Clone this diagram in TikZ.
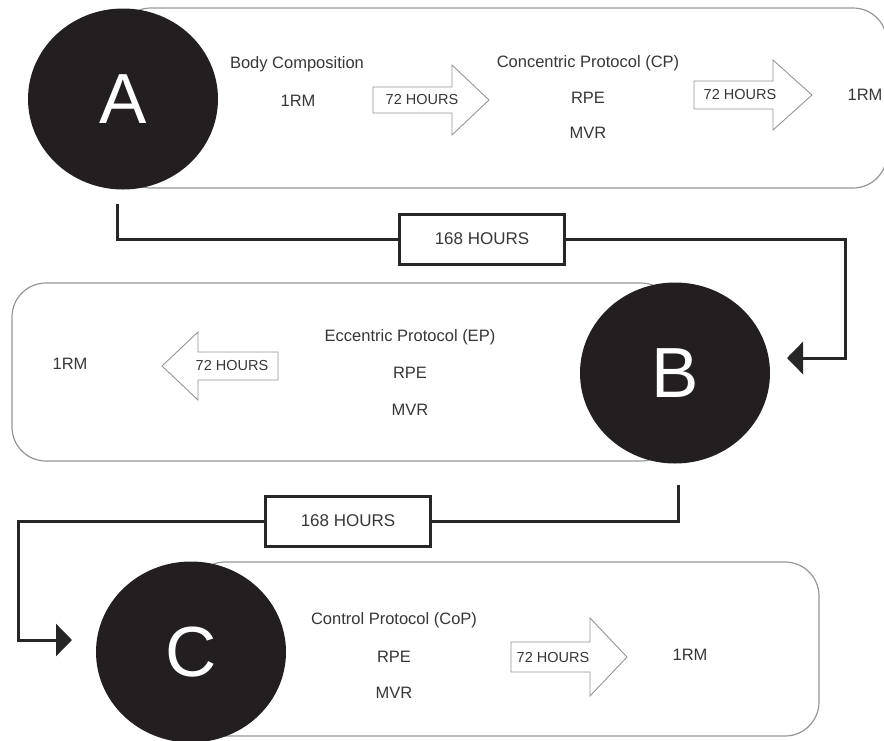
\documentclass[tikz,border=0pt]{standalone}
\usepackage{fontspec}
\setmainfont{Liberation Sans}
\usetikzlibrary{shapes.geometric,arrows.meta}
\definecolor{disc}{RGB}{35,31,32}
\definecolor{frame}{RGB}{150,150,150}
\definecolor{txt}{RGB}{55,55,55}

\begin{document}
\begin{tikzpicture}[x=1pt,y=-1pt,
  lab/.style={text=txt,font=\fontsize{16.5}{18}\selectfont,inner sep=0pt},
  hrs/.style={text=txt,font=\fontsize{14.5}{16}\selectfont,inner sep=0pt},
  disc/.style={ellipse,fill=disc,text=white,minimum width=190pt,minimum height=181pt,inner sep=0pt,font=\fontsize{71}{71}\selectfont},
  gap/.style={draw=black!85,line width=3pt,fill=white,minimum width=165pt,minimum height=50pt,inner sep=0pt,text=txt,font=\fontsize{17}{19}\selectfont},
  link/.style={draw=black!85,line width=3pt},
  band/.style={draw=frame,line width=1.2pt,fill=white,rounded corners=34pt},
  hrsarrow/.style={draw=frame,line width=0.9pt,fill=white}]
\clip (0,0) rectangle (884,740);

\draw [band] (117,8) rectangle (887,188);
\node [disc] (A) at (123,99) {A};
\node [lab] (bodycomp) at (297,64) {Body Composition};
\node [lab] (rmA) at (298,101) {1RM};
\node [lab] (cp) at (588,63) {Concentric Protocol (CP)};
\node [lab] (rpeA) at (588,98) {RPE};
\node [lab] (mvrA) at (588,133) {MVR};
\node [lab] (rmAA) at (865,95) {1RM};

\draw [band] (12,283) rectangle (675,461);
\node [disc] (B) at (675,373) {B};
\node [lab] (rmB) at (70,364) {1RM};
\node [lab] (ep) at (410,337) {Eccentric Protocol (EP)};
\node [lab] (rpeB) at (410,373) {RPE};
\node [lab] (mvrB) at (410,410) {MVR};

\draw [band] (191,562) rectangle (819,736);
\node [disc] (C) at (191,652) {C};
\node [lab] (cop) at (394,620) {Control Protocol (CoP)};
\node [lab] (rpeC) at (394,657) {RPE};
\node [lab] (mvrC) at (394,693) {MVR};
\node [lab] (rmC) at (690,655) {1RM};

\foreach \i/\xa/\xb/\xt/\yc/\hb/\hh/\xl in {1/373/452/489/100/13/35/422, 2/694/773/812/95/14/35/740, 3/278/198/162/366/14/34/232, 4/511/590/627/657/15/39/553} {
  \draw [hrsarrow] (\xa,\yc-\hb) -- (\xb,\yc-\hb) -- (\xb,\yc-\hh) -- (\xt,\yc) -- (\xb,\yc+\hh) -- (\xb,\yc+\hb) -- (\xa,\yc+\hb) -- cycle;
  \node [hrs] (h\i) at (\xl,\yc) {72 HOURS};
}

\coordinate (a0) at (117,204);
\coordinate (a1) at (845,358);
\coordinate (bin) at (787,358);
\node [gap] (g1) at (482,239) {168 HOURS};
\draw [link] (a0) |- (g1.west);
\draw [link,-{Triangle[length=16pt,width=32pt]}] (g1.east) -| (a1) -- (bin);

\coordinate (b0) at (678,485);
\coordinate (c1) at (18,640);
\coordinate (cin) at (72,640);
\node [gap] (g2) at (348,521) {168 HOURS};
\draw [link] (b0) |- (g2.east);
\draw [link,-{Triangle[length=16pt,width=32pt]}] (g2.west) -| (c1) -- (cin);

\end{tikzpicture}
\end{document}
